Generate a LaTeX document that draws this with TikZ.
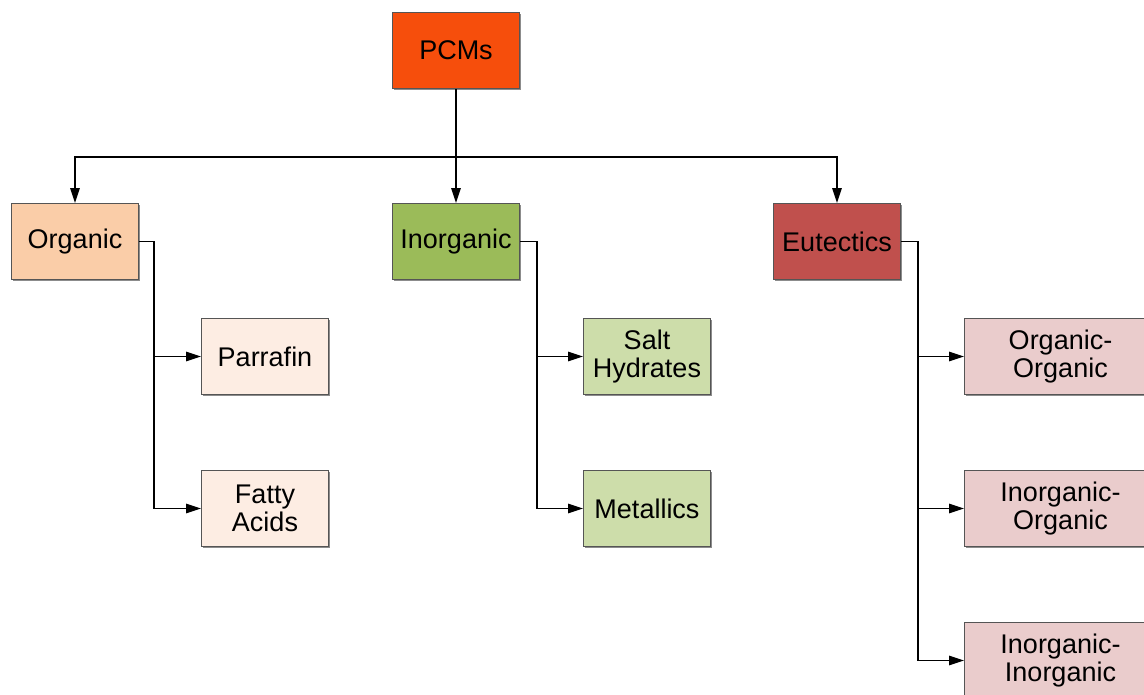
\documentclass[tikz,border=0pt]{standalone}
\usepackage{fontspec}
\setmainfont{Liberation Sans}
\usetikzlibrary{arrows.meta,shadows}
\definecolor{cpcm}{HTML}{F64E0C}
\definecolor{corg}{HTML}{FACDA8}
\definecolor{corgl}{HTML}{FDEDE3}
\definecolor{cinorg}{HTML}{9BBB59}
\definecolor{cinorgl}{HTML}{CDDDAA}
\definecolor{ceut}{HTML}{C0504D}
\definecolor{ceutl}{HTML}{EACCCC}
\definecolor{cborder}{HTML}{555555}
\tikzset{
  box/.style={draw=cborder, line width=1pt, anchor=north west,
    minimum width=127pt, minimum height=76pt, inner sep=0pt,
    align=center, font=\fontsize{27}{28.5}\selectfont,
    drop shadow={shadow xshift=1.2pt, shadow yshift=-1.2pt, fill=black!45, opacity=1}},
  widebox/.style={box, minimum width=192pt},
  link/.style={draw=black, line width=1.5pt},
  arr/.style={link, -{Triangle[length=15pt,width=9.5pt]}}
}
\begin{document}
\begin{tikzpicture}[x=1pt,y=-1pt]
\useasboundingbox (0,0) rectangle (1144,694);
\begin{scope}
\clip (0,0) rectangle (1144,694);
% top level
\node[box, fill=cpcm] (pcm) at (392,12) {PCMs};
% categories
\node[box, fill=corg] (org) at (11,203) {Organic};
\node[box, fill=cinorg] (inorg) at (392,203) {Inorganic};
\node[box, fill=ceut] (eut) at (773,203) {Eutectics};
% organic subclasses
\node[box, fill=corgl] (par) at (201,318) {Parrafin};
\node[box, fill=corgl] (fat) at (201,470) {Fatty\\Acids};
% inorganic subclasses
\node[box, fill=cinorgl] (salt) at (583,318) {Salt\\Hydrates};
\node[box, fill=cinorgl] (metal) at (583,470) {Metallics};
% eutectic subclasses
\node[widebox, fill=ceutl] (oo) at (964,318) {Organic-\\Organic};
\node[widebox, fill=ceutl] (io) at (964,470) {Inorganic-\\Organic};
\node[widebox, fill=ceutl] (ii) at (964,622) {Inorganic-\\Inorganic};
\end{scope}
% bus from the top box
\coordinate (bus) at (455.5,157);
\draw[arr] (pcm.south) -- (inorg.north);
\draw[arr] (bus) -| (org.north);
\draw[arr] (bus) -| (eut.north);
% organic branch
\draw[arr] (org.east) -- ++(15,0) coordinate (ob) |- (fat.west);
\draw[arr] (ob |- par.west) -- (par.west);
% inorganic branch
\draw[arr] (inorg.east) -- ++(17,0) coordinate (ib) |- (metal.west);
\draw[arr] (ib |- salt.west) -- (salt.west);
% eutectic branch
\draw[arr] (eut.east) -- ++(17,0) coordinate (eb) |- (ii.west);
\draw[arr] (eb |- oo.west) -- (oo.west);
\draw[arr] (eb |- io.west) -- (io.west);
\end{tikzpicture}
\end{document}
